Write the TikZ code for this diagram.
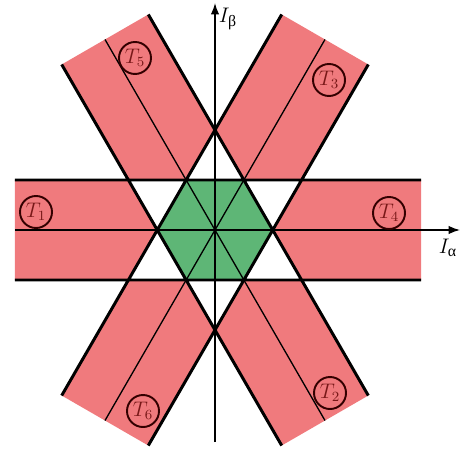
\documentclass[tikz,border=0pt]{standalone}
\usepackage{fontspec}
\newfontfamily\greekup{Liberation Serif}
\usetikzlibrary{arrows.meta,calc}
\definecolor{bandred}{RGB}{240,122,125}
\definecolor{hexgreen}{RGB}{94,182,118}
\definecolor{tagred}{RGB}{120,24,24}

\begin{document}
\begin{tikzpicture}[font=\large,>={Latex[length=2.3mm,width=1.7mm]},
band/.style={fill=bandred},
rim/.style={line width=1.7pt},
mid/.style={line width=0.75pt},
axis/.style={->,line width=0.8pt},
tag/.style={circle,draw=black!80!red,line width=1.1pt,text=tagred,minimum size=6.4mm,inner sep=0.5pt}]
\useasboundingbox (-4.3,-4.44) rectangle (4.98,4.6);
% corners of the horizontal band and of the two slanted bands
\coordinate (ha) at (-4,1);
\coordinate (hb) at (4.12,1);
\coordinate (hc) at (4.12,-1);
\coordinate (hd) at (-4,-1);
\foreach \a/\b in {60/p,120/q} {
  \coordinate (\b a) at ($(\a:4.4)+(\a+90:1)$);
  \coordinate (\b b) at ($(\a:4.4)+(\a-90:1)$);
  \coordinate (\b c) at ($(\a+180:4.4)+(\a-90:1)$);
  \coordinate (\b d) at ($(\a+180:4.4)+(\a+90:1)$);
  \coordinate (\b m) at (\a:4.4);
  \coordinate (\b n) at (\a+180:4.4);
}
% where two bands overlap the fill drops out
\fill[band,even odd rule] (ha) -- (hb) -- (hc) -- (hd) -- cycle
  (pa) -- (pb) -- (pc) -- (pd) -- cycle
  (qa) -- (qb) -- (qc) -- (qd) -- cycle;
\fill[hexgreen] (0:1.1547) \foreach \a in {60,120,...,300} {-- (\a:1.1547)} -- cycle;
\draw[rim] (ha) -- (hb) (hd) -- (hc) (pa) -- (pd) (pb) -- (pc) (qa) -- (qd) (qb) -- (qc);
\draw[mid] (pm) -- (pn) (qm) -- (qn);
% axes
\coordinate (xl) at (-4,0);
\coordinate (xr) at (4.9,0);
\coordinate (yb) at (0,-4.24);
\coordinate (yt) at (0,4.54);
\draw[axis] (xl) -- (xr);
\draw[axis] (yb) -- (yt);
\node (ialpha) at (4.66,-0.36) {$I_{\mbox{\small\greekup α}}$};
\node (ibeta) at (0.26,4.22) {$I_{\mbox{\small\greekup β}}$};
% sector labels
\node[tag] (t1) at (-3.58,0.36) {$T_1$};
\node[tag] (t2) at (2.3,-3.26) {$T_2$};
\node[tag] (t3) at (2.28,3.0) {$T_3$};
\node[tag] (t4) at (3.48,0.34) {$T_4$};
\node[tag] (t5) at (-1.6,3.44) {$T_5$};
\node[tag] (t6) at (-1.44,-3.62) {$T_6$};
\end{tikzpicture}
\end{document}
